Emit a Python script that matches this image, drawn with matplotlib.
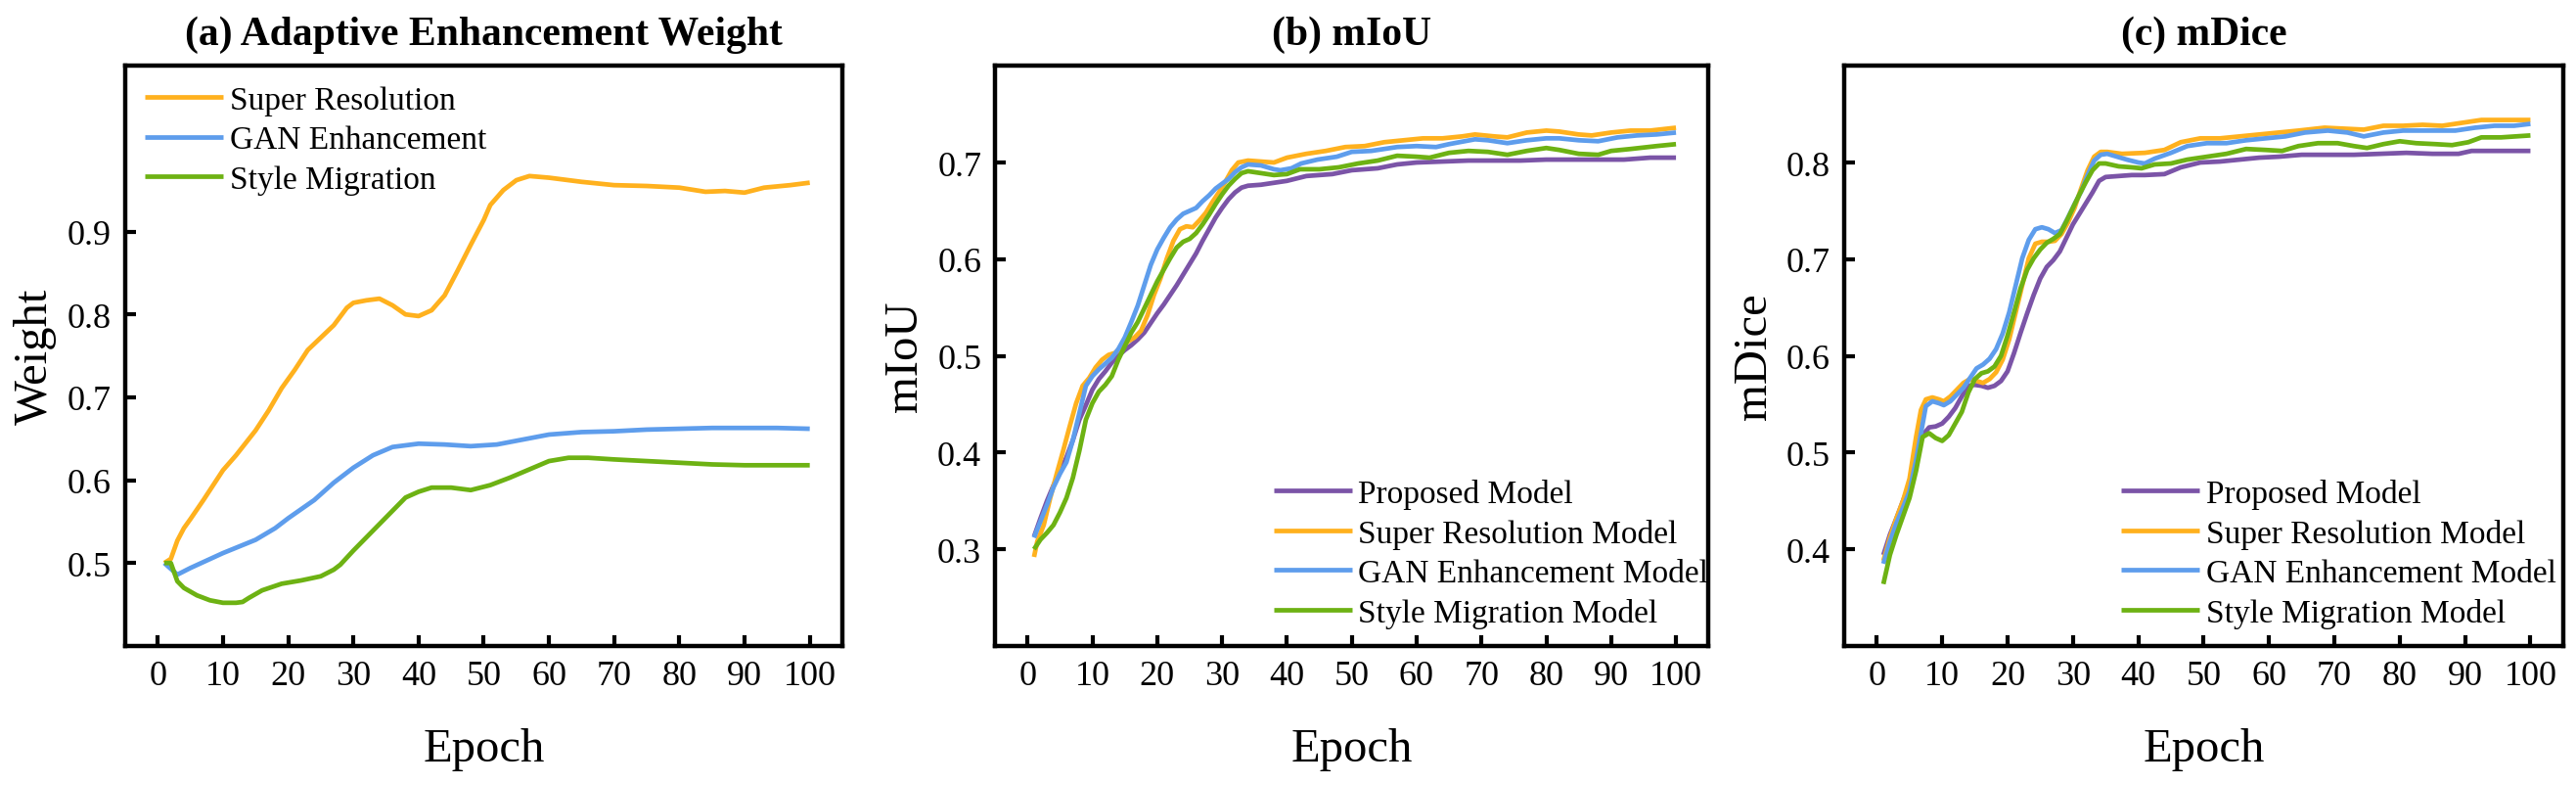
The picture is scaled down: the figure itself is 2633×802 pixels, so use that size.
import matplotlib
matplotlib.use('Agg')
import matplotlib.pyplot as plt

plt.rcParams['font.family'] = ['Liberation Serif', 'DejaVu Serif']

# ---------------- data ----------------
epoch_ticks = list(range(0, 101, 10))

# (a) adaptive enhancement weight: (epoch, weight)
weight_sr = [(1, 0.500), (2, 0.505), (3, 0.527), (4, 0.542), (5, 0.553), (7, 0.576), (9, 0.600),
             (10, 0.612), (12, 0.630), (15, 0.660), (17, 0.684), (19, 0.711), (21, 0.733),
             (23, 0.757), (25, 0.772), (27, 0.787), (29, 0.808), (30, 0.814), (32, 0.817),
             (34, 0.819), (36, 0.811), (38, 0.800), (40, 0.798), (42, 0.805), (44, 0.823),
             (46, 0.853), (48, 0.884), (50, 0.914), (51, 0.932), (53, 0.950), (55, 0.962),
             (57, 0.967), (60, 0.965), (65, 0.960), (70, 0.956), (75, 0.955), (80, 0.953),
             (84, 0.948), (87, 0.949), (90, 0.947), (93, 0.953), (97, 0.956), (100, 0.959)]
weight_gan = [(1, 0.500), (3, 0.486), (5, 0.494), (10, 0.512), (15, 0.528), (18, 0.542),
              (20, 0.554), (24, 0.576), (27, 0.597), (30, 0.615), (33, 0.630), (36, 0.640),
              (40, 0.644), (44, 0.643), (48, 0.641), (52, 0.643), (56, 0.649), (60, 0.655),
              (65, 0.658), (70, 0.659), (75, 0.661), (80, 0.662), (85, 0.663), (90, 0.663),
              (95, 0.663), (100, 0.662)]
weight_style = [(1, 0.500), (2, 0.500), (3, 0.478), (4, 0.470), (6, 0.461), (8, 0.455),
                (10, 0.452), (12, 0.452), (13, 0.453), (14, 0.458), (16, 0.467), (19, 0.475),
                (22, 0.479), (25, 0.484), (27, 0.492), (28, 0.498), (30, 0.515), (33, 0.539),
                (36, 0.563), (38, 0.579), (40, 0.586), (42, 0.591), (45, 0.591), (48, 0.588),
                (51, 0.594), (54, 0.603), (57, 0.613), (60, 0.623), (63, 0.627), (66, 0.627),
                (70, 0.625), (75, 0.623), (80, 0.621), (85, 0.619), (90, 0.618), (95, 0.618),
                (100, 0.618)]

# (b) mIoU: (epoch, mIoU)
miou_proposed = [(1, 0.313), (2, 0.332), (3, 0.350), (4, 0.366), (5, 0.380), (6, 0.395), (7, 0.413),
                 (8, 0.434), (9, 0.449), (10, 0.465), (11, 0.476), (12, 0.484), (13, 0.493),
                 (14, 0.500), (15, 0.506), (16, 0.511), (17, 0.517), (18, 0.524), (19, 0.534),
                 (20, 0.544), (21, 0.553), (22, 0.563), (23, 0.573), (24, 0.584), (25, 0.595),
                 (26, 0.606), (27, 0.619), (28, 0.631), (29, 0.643), (30, 0.653), (31, 0.662),
                 (32, 0.669), (33, 0.674), (34, 0.676), (36, 0.677), (38, 0.679), (40, 0.681),
                 (43, 0.686), (47, 0.688), (50, 0.692), (54, 0.694), (57, 0.698), (60, 0.700),
                 (64, 0.701), (68, 0.702), (72, 0.702), (76, 0.702), (80, 0.703), (84, 0.703),
                 (88, 0.703), (92, 0.703), (96, 0.705), (100, 0.705)]
miou_sr = [(1, 0.292), (1.5, 0.308), (2.5, 0.325), (3.5, 0.353), (4.5, 0.378), (5.5, 0.402),
           (6.5, 0.427), (7.5, 0.451), (8.5, 0.469), (9.5, 0.477), (10.5, 0.488), (11.5, 0.496),
           (12.5, 0.501), (13.5, 0.503), (14.5, 0.509), (15.5, 0.515), (16.5, 0.519),
           (17.5, 0.526), (18.5, 0.542), (19.5, 0.563), (20.5, 0.580), (21.5, 0.601),
           (22.5, 0.619), (23.5, 0.631), (24.5, 0.634), (25.5, 0.633), (26.5, 0.640),
           (27.5, 0.648), (28.5, 0.659), (29.5, 0.669), (30.5, 0.680), (31.5, 0.692),
           (32.5, 0.700), (34, 0.702), (36, 0.701), (38, 0.700), (40, 0.705), (43, 0.709),
           (46, 0.712), (49, 0.716), (52, 0.717), (55, 0.721), (58, 0.723), (61, 0.725),
           (64, 0.725), (67, 0.727), (69, 0.729), (72, 0.727), (74, 0.726), (77, 0.731),
           (80, 0.733), (82, 0.732), (85, 0.729), (87, 0.728), (90, 0.731), (93, 0.733),
           (96, 0.733), (100, 0.736)]
miou_gan = [(1, 0.312), (2, 0.329), (3, 0.346), (4, 0.364), (5, 0.378), (6, 0.390), (7, 0.413),
            (8, 0.441), (9, 0.469), (10, 0.479), (11, 0.486), (12, 0.492), (13, 0.498),
            (14, 0.507), (15, 0.519), (16, 0.535), (17, 0.552), (18, 0.573), (19, 0.594),
            (20, 0.610), (21, 0.622), (22, 0.633), (23, 0.641), (24, 0.647), (25, 0.650),
            (26, 0.653), (27, 0.660), (28, 0.666), (29, 0.673), (30, 0.678), (31, 0.683),
            (32, 0.690), (33, 0.695), (34, 0.698), (36, 0.697), (38, 0.693), (39, 0.692),
            (40.7, 0.694), (42.2, 0.699), (44.7, 0.703), (47.7, 0.706), (50, 0.711),
            (53, 0.712), (57, 0.716), (60, 0.717), (63, 0.716), (65, 0.719), (69, 0.724),
            (71, 0.723), (74, 0.720), (77, 0.723), (80, 0.725), (82, 0.725), (85, 0.723),
            (88, 0.722), (91, 0.726), (94, 0.728), (97, 0.729), (100, 0.731)]
miou_style = [(1, 0.300), (2, 0.310), (3, 0.317), (4, 0.325), (5, 0.338), (6, 0.353), (7, 0.374),
              (8, 0.402), (9, 0.434), (10, 0.451), (11, 0.463), (12, 0.470), (13, 0.479),
              (14, 0.496), (15, 0.510), (16, 0.524), (17, 0.535), (18, 0.549), (19, 0.563),
              (20, 0.577), (21, 0.589), (22, 0.601), (23, 0.612), (24, 0.618), (25, 0.621),
              (26, 0.627), (27, 0.636), (28, 0.646), (29, 0.657), (30, 0.667), (31, 0.676),
              (32, 0.683), (33, 0.689), (34, 0.691), (36, 0.689), (38, 0.687), (40, 0.688),
              (42, 0.693), (45, 0.693), (48, 0.695), (51, 0.699), (54, 0.702), (57, 0.707),
              (60, 0.706), (62, 0.705), (65, 0.710), (68, 0.712), (71, 0.711), (74, 0.708),
              (77, 0.712), (80, 0.715), (82, 0.713), (85, 0.709), (88, 0.708), (90, 0.712),
              (93, 0.714), (97, 0.717), (100, 0.719)]

# (c) mDice: (epoch, mDice)
mdice_proposed = [(1, 0.394), (2, 0.415), (3, 0.432), (4, 0.450), (5, 0.467), (6, 0.495),
                  (7, 0.518), (8, 0.526), (9, 0.527), (10, 0.530), (11, 0.537), (12, 0.546),
                  (13, 0.558), (14, 0.569), (15, 0.570), (16, 0.569), (17, 0.567), (18, 0.569),
                  (19, 0.574), (20, 0.584), (21, 0.603), (22, 0.624), (23, 0.644), (24, 0.663),
                  (25, 0.680), (26, 0.692), (27, 0.699), (28, 0.708), (29, 0.722), (30, 0.736),
                  (31, 0.747), (32, 0.758), (33, 0.769), (34, 0.781), (35, 0.785), (37, 0.786),
                  (39, 0.787), (41, 0.787), (44, 0.788), (46.5, 0.795), (49.5, 0.800),
                  (52.5, 0.801), (55.5, 0.803), (58.5, 0.805), (61.5, 0.806), (65, 0.808),
                  (69, 0.808), (73, 0.808), (77, 0.809), (81, 0.810), (85, 0.809), (89, 0.809),
                  (91, 0.812), (95, 0.812), (100, 0.812)]
mdice_sr = [(1, 0.388), (2, 0.412), (3, 0.432), (4, 0.450), (5, 0.473), (6, 0.516), (6.75, 0.544),
            (7.5, 0.555), (8.5, 0.557), (9.5, 0.555), (10.25, 0.553), (11.25, 0.558),
            (12.25, 0.565), (13.25, 0.572), (14.25, 0.576), (15.25, 0.574), (16.25, 0.572),
            (17.25, 0.576), (18.25, 0.583), (19.25, 0.596), (20.25, 0.617), (21.25, 0.645),
            (22.25, 0.673), (23.25, 0.701), (24.25, 0.716), (25.25, 0.718), (26.25, 0.718),
            (27.25, 0.719), (28.25, 0.726), (29.25, 0.738), (30.25, 0.753), (31.25, 0.773),
            (32.25, 0.792), (33.25, 0.806), (34.25, 0.811), (35.25, 0.811), (37.5, 0.809),
            (41, 0.810), (44, 0.813), (46.5, 0.821), (49.5, 0.825), (52.5, 0.825),
            (55.5, 0.827), (58.5, 0.829), (61.5, 0.831), (64.5, 0.833), (68.5, 0.836),
            (71.5, 0.835), (74.5, 0.834), (77.5, 0.838), (80.5, 0.838), (83.5, 0.839),
            (86.5, 0.838), (89.5, 0.841), (92.5, 0.844), (96.5, 0.844), (100, 0.844)]
mdice_gan = [(1, 0.385), (2, 0.408), (3, 0.427), (4, 0.443), (5, 0.460), (6, 0.492),
             (6.75, 0.520), (7.5, 0.548), (8.5, 0.553), (9.5, 0.551), (10.25, 0.549),
             (11.25, 0.553), (12.25, 0.560), (13.25, 0.567), (14.25, 0.577), (15.25, 0.587),
             (16.25, 0.591), (17.25, 0.597), (18.25, 0.607), (19.25, 0.623), (20.25, 0.645),
             (21.25, 0.673), (22.25, 0.701), (23.25, 0.720), (24.25, 0.731), (25.25, 0.733),
             (26.25, 0.731), (27.25, 0.727), (28.25, 0.730), (29.25, 0.743), (30.25, 0.757),
             (31.25, 0.770), (32.25, 0.787), (33.25, 0.802), (34.25, 0.808), (35.25, 0.809),
             (36.25, 0.807), (38.25, 0.803), (40, 0.800), (41, 0.799), (42.5, 0.804),
             (45, 0.810), (47.5, 0.817), (50.5, 0.820), (53.5, 0.820), (56.5, 0.823),
             (59.5, 0.825), (62.5, 0.827), (65.5, 0.831), (69, 0.833), (72, 0.831),
             (74.5, 0.827), (77.5, 0.831), (80.5, 0.833), (84.5, 0.833), (88.5, 0.833),
             (91.5, 0.836), (94.5, 0.838), (97.5, 0.838), (100, 0.840)]
mdice_style = [(1, 0.364), (2, 0.394), (3, 0.415), (4, 0.434), (5, 0.453), (6, 0.481), (7, 0.516),
               (8, 0.520), (9, 0.515), (10, 0.512), (11, 0.518), (12, 0.530), (13, 0.542),
               (14, 0.562), (15, 0.576), (16, 0.582), (17, 0.584), (18, 0.589), (19, 0.600),
               (20, 0.621), (21, 0.645), (22, 0.670), (23, 0.689), (24, 0.701), (25, 0.710),
               (26, 0.717), (27, 0.721), (28, 0.726), (29, 0.739), (30, 0.753), (31, 0.767),
               (32, 0.780), (33, 0.792), (34, 0.799), (35, 0.799), (37, 0.796), (39, 0.795),
               (40.5, 0.794), (42.5, 0.798), (45, 0.799), (47.5, 0.803), (50.5, 0.806),
               (53.5, 0.809), (56.5, 0.814), (59.5, 0.813), (62, 0.812), (64.5, 0.817),
               (67.5, 0.820), (70.5, 0.820), (73, 0.817), (75, 0.815), (77.5, 0.819),
               (80, 0.822), (82.5, 0.820), (85.5, 0.819), (88, 0.818), (90.5, 0.821),
               (92.5, 0.826), (95.5, 0.826), (100, 0.828)]

weight_labels = ['Super Resolution', 'GAN Enhancement', 'Style Migration']
model_labels = ['Proposed Model', 'Super Resolution Model', 'GAN Enhancement Model',
                'Style Migration Model']
weight_ticks = [0.5, 0.6, 0.7, 0.8, 0.9]
miou_ticks = [0.3, 0.4, 0.5, 0.6, 0.7]
mdice_ticks = [0.4, 0.5, 0.6, 0.7, 0.8]

# ---------------- style ----------------
C_PURPLE = '#7B54A7'
C_ORANGE = '#FFB11E'
C_BLUE = '#5E9DEC'
C_GREEN = '#6DB213'
LW = 3.4

fig = plt.figure(figsize=(26.33, 8.03), dpi=100)
bottom, height = 0.177, 0.738
ax_a = fig.add_axes([0.0486, bottom, 0.2784, height])
ax_b = fig.add_axes([0.3863, bottom, 0.2769, height])
ax_c = fig.add_axes([0.7159, bottom, 0.2791, height])


def plot_series(ax, series, color, label):
    xs = [p[0] for p in series]
    ys = [p[1] for p in series]
    ax.plot(xs, ys, color=color, lw=LW, label=label, solid_capstyle='butt')


def style(ax, yticks, ylim, ylabel, title):
    ax.set_xlim(-5, 105)
    ax.set_xticks(epoch_ticks)
    ax.set_ylim(*ylim)
    ax.set_yticks(yticks)
    ax.set_yticklabels([f'{t:.1f}' for t in yticks])
    ax.tick_params(direction='in', length=8, width=3, labelsize=26, pad=10)
    for s in ax.spines.values():
        s.set_linewidth(3.2)
    ax.set_xlabel('Epoch', fontsize=35, labelpad=26)
    ax.set_ylabel(ylabel, fontsize=35, labelpad=8)
    ax.set_title(title, fontsize=30, fontweight='bold', pad=16)


LEG = dict(frameon=False, fontsize=24, handlelength=2.4, handletextpad=0.2, labelspacing=0.3)

# (a)
for s, c, l in zip([weight_sr, weight_gan, weight_style], [C_ORANGE, C_BLUE, C_GREEN], weight_labels):
    plot_series(ax_a, s, c, l)
style(ax_a, weight_ticks, (0.4, 1.1), 'Weight', '(a) Adaptive Enhancement Weight')
ax_a.legend(loc='upper left', borderpad=0.6, borderaxespad=0, **LEG)

# (b)
for s, c, l in zip([miou_proposed, miou_sr, miou_gan, miou_style],
                   [C_PURPLE, C_ORANGE, C_BLUE, C_GREEN], model_labels):
    plot_series(ax_b, s, c, l)
style(ax_b, miou_ticks, (0.2, 0.8), 'mIoU', '(b) mIoU')
ax_b.legend(loc='lower right', bbox_to_anchor=(1.0, 0.03), borderpad=0, borderaxespad=0, **LEG)

# (c)
for s, c, l in zip([mdice_proposed, mdice_sr, mdice_gan, mdice_style],
                   [C_PURPLE, C_ORANGE, C_BLUE, C_GREEN], model_labels):
    plot_series(ax_c, s, c, l)
style(ax_c, mdice_ticks, (0.3, 0.9), 'mDice', '(c) mDice')
ax_c.legend(loc='lower right', bbox_to_anchor=(0.99, 0.03), borderpad=0, borderaxespad=0, **LEG)

fig.savefig('out.png', dpi=100)
